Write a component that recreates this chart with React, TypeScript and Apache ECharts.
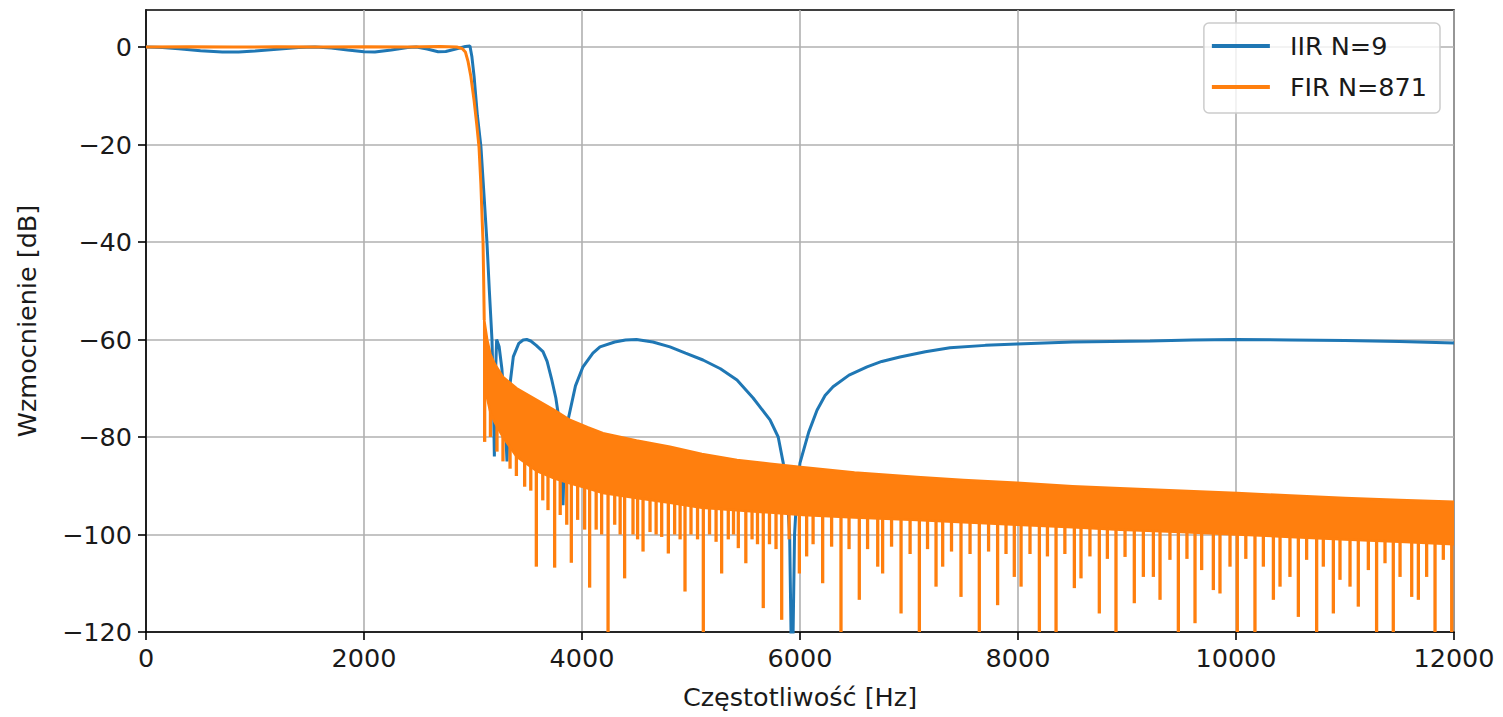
import React, { useEffect, useRef } from 'react';
import * as echarts from 'echarts';

// ---------- data ----------
const X_TICKS = [0, 2000, 4000, 6000, 8000, 10000, 12000];
const Y_TICKS = [-120, -100, -80, -60, -40, -20, 0];

const IIR_F = [
  0, 150, 300, 500, 700, 850, 1000, 1200, 1400, 1550, 1700, 1850, 2000, 2100, 2250, 2400, 2480, 2580, 2680, 2750,
  2850, 2930, 2972, 2990, 3010, 3040, 3073, 3100, 3128, 3150, 3174, 3186, 3196, 3205, 3217, 3240, 3265, 3290, 3312,
  3335, 3370, 3420, 3460, 3493, 3530, 3580, 3642, 3680, 3720, 3760, 3790, 3810, 3826, 3840, 3872, 3940, 4009, 4100, 4165, 4300, 4400, 4500,
  4650, 4807, 4950, 5110, 5270, 5422, 5570, 5725, 5800, 5847, 5880, 5905, 5927, 5950, 5975, 6000, 6080, 6156, 6230,
  6303, 6450, 6615, 6750, 6917, 7150, 7376, 7700, 7991, 8500, 9211, 9600, 10000, 10500, 11000, 11500, 12000,
];
const IIR_DB = [
  0, -0.1, -0.35, -0.75, -1.0, -1.0, -0.8, -0.45, -0.1, 0, -0.2, -0.6, -0.95, -1.0, -0.6, -0.1, 0, -0.4, -0.95, -0.9,
  -0.35, 0.1, 0.2, -2, -6, -14, -20.5, -30, -40, -50, -60, -70, -84, -68, -60, -61.5, -66, -74, -85,
  -70, -63.5, -60.8, -60.1, -60, -60.3, -61.2, -62.5, -64.5, -68, -72, -76.5, -82, -94, -82, -76.5, -69.5, -65.6, -62.8, -61.5, -60.5, -60.1, -60,
  -60.5, -61.5, -62.8, -64.2, -66, -68.3, -72, -76.5, -80, -85.4, -91, -100, -135, -100, -90, -85.3, -79, -74.5, -71.5,
  -69.7, -67.3, -65.6, -64.5, -63.6, -62.5, -61.7, -61.2, -60.9, -60.5, -60.3, -60.1, -60, -60.1, -60.2, -60.4, -60.7,
];

// FIR: pass band and main transition
const FIR_F = [0, 400, 800, 1200, 1600, 2000, 2400, 2700, 2850, 2900, 2930, 2955, 2980, 3010, 3035, 3055, 3072, 3085, 3092, 3098, 3103];
const FIR_DB = [0, 0.05, 0, 0.05, 0, 0.05, 0, 0.1, 0, -0.3, -1, -3, -6, -11, -16, -20.5, -28, -36, -40, -48, -56];

// FIR stop band: dense ripple drawn as a band between its upper and lower edges
const FIR_BAND_F = [3103, 3130, 3160, 3200, 3275, 3400, 3587, 3750, 3890, 4050, 4193, 4500, 4807, 5100, 5422, 5725, 6028, 6500, 7073, 7500, 7991, 8500, 8936, 9500, 10009, 10500, 11000, 11500, 12000];
const FIR_BAND_TOP = [-56, -60, -63, -65, -67.7, -70, -72.4, -74.5, -76.5, -78, -79.2, -80.7, -82, -83.5, -84.7, -85.5, -86.2, -87.3, -88.2, -88.8, -89.4, -90.1, -90.5, -91.0, -91.5, -92.0, -92.5, -92.9, -93.3];
const FIR_BAND_BOTTOM = [-60, -72, -75, -77, -80, -84, -87, -88.5, -89.5, -90.5, -91.5, -92.5, -93.5, -94.5, -95, -95.5, -96, -96.5, -97, -97.5, -98, -98.5, -99, -99.5, -100, -100.5, -101, -101.5, -102];

// FIR stop band: individual deep notches below the band
const FIR_SPIKE_F = [
  3107, 3160, 3220, 3275, 3340, 3398, 3474, 3530, 3581, 3640, 3688, 3749, 3800, 3860, 3902, 3960, 4024, 4070, 4130, 4180,
  4239, 4300, 4350, 4391, 4468, 4510, 4560, 4624, 4680, 4731, 4792, 4850, 4900, 4945, 5000, 5060, 5113, 5170, 5230, 5281,
  5342, 5390, 5434, 5503, 5560, 5610, 5663, 5720, 5780, 5832, 5900, 5994, 6061, 6120, 6208, 6290, 6376, 6450, 6544, 6620,
  6713, 6758, 6840, 6927, 7010, 7095, 7170, 7248, 7309, 7390, 7477, 7560, 7645, 7730, 7813, 7890, 7966, 8028, 8110, 8196,
  8270, 8349, 8430, 8517, 8578, 8660, 8746, 8820, 8899, 8982, 9067, 9150, 9242, 9303, 9394, 9471, 9550, 9624, 9685, 9792,
  9853, 9945, 10012, 10090, 10174, 10251, 10343, 10404, 10495, 10572, 10648, 10740, 10801, 10893, 10954, 11046, 11122, 11214, 11290, 11367,
  11443, 11505, 11612, 11673, 11749, 11826, 11902, 11979,
];
const FIR_SPIKE_DB = [
  -81, -80, -83, -85, -86.5, -88, -90.2, -91, -106.6, -93, -95, -106.8, -96, -98, -105.8, -97, -99, -110.9, -99, -100,
  -125, -98, -100, -109, -100, -101, -103.5, -99.5, -100, -100.5, -103.9, -100, -101, -111.7, -100, -101, -125, -100, -101.5, -108,
  -101, -100, -102.8, -105.9, -101, -102, -115.1, -102, -103, -117.5, -101, -108, -104.5, -102, -110, -102.5, -125, -103, -113.4, -103,
  -106.6, -108, -102.5, -116.2, -104, -125, -103, -110.7, -106.6, -103.5, -112.8, -104, -125, -103.5, -114.5, -104, -108.7, -110.7, -104, -125,
  -104.5, -125, -104, -111, -109, -104.5, -116.2, -105, -125, -104.6, -114.1, -108.7, -108.7, -113.4, -105.2, -125, -105, -118.2, -107.3, -111.4,
  -112.1, -106.6, -125, -105, -125, -106.6, -113.4, -110.7, -108.7, -116.9, -105.2, -125, -106.6, -116.2, -109.3, -110.7, -114.8, -107.3, -125, -105.9,
  -125, -108.7, -112.8, -113.4, -108.7, -125, -105.2, -125,
];

// ---------- styling ----------
const BLUE = '#1f77b4';
const ORANGE = '#ff7f0e';
const FONT = 'DejaVu Sans';
const TEXT = '#1a1a1a';
const FS = 25.5;

const fmtNum = (v: number) => (v < 0 ? '\u2212' + String(Math.abs(v)) : String(v));

function bandBottomAt(f: number): number {
  const n = FIR_BAND_F.length;
  if (f <= FIR_BAND_F[0]) return FIR_BAND_BOTTOM[0];
  if (f >= FIR_BAND_F[n - 1]) return FIR_BAND_BOTTOM[n - 1];
  for (let i = 0; i < n - 1; i++) {
    if (f >= FIR_BAND_F[i] && f <= FIR_BAND_F[i + 1]) {
      const t = (f - FIR_BAND_F[i]) / (FIR_BAND_F[i + 1] - FIR_BAND_F[i]);
      return FIR_BAND_BOTTOM[i] + t * (FIR_BAND_BOTTOM[i + 1] - FIR_BAND_BOTTOM[i]);
    }
  }
  return FIR_BAND_BOTTOM[n - 1];
}

export default function App() {
  const ref = useRef<HTMLDivElement>(null);

  useEffect(() => {
    if (!ref.current) return;
    const chart = echarts.init(ref.current, null, { renderer: 'svg' });

    const option: any = {
      animation: false,
      backgroundColor: '#ffffff',
      grid: {
        left: 146,
        top: 10,
        right: 49,
        bottom: 85,
        show: true,
        borderColor: '#000',
        borderWidth: 1.6,
        backgroundColor: 'transparent',
      },
      xAxis: {
        type: 'value',
        min: 0,
        max: 12000,
        interval: 2000,
        name: 'Częstotliwość [Hz]',
        nameLocation: 'middle',
        nameGap: 52,
        nameTextStyle: { fontFamily: FONT, fontSize: FS, color: TEXT },
        axisLine: { show: true, onZero: false, lineStyle: { color: '#000', width: 1.6 } },
        axisTick: { show: true, length: 8, lineStyle: { color: '#000', width: 1.6 } },
        axisLabel: {
          fontFamily: FONT,
          fontSize: FS,
          color: TEXT,
          margin: 13,
          customValues: X_TICKS,
          formatter: (v: number) => fmtNum(v),
        },
        splitLine: { show: true, lineStyle: { color: '#b0b0b0', width: 1.6 } },
      },
      yAxis: {
        type: 'value',
        min: -120,
        max: 7.6,
        interval: 20,
        name: 'Wzmocnienie [dB]',
        nameLocation: 'middle',
        nameGap: 106,
        nameRotate: 90,
        nameTextStyle: { fontFamily: FONT, fontSize: FS, color: TEXT },
        axisLine: { show: true, onZero: false, lineStyle: { color: '#000', width: 1.6 } },
        axisTick: { show: true, length: 8, customValues: Y_TICKS, lineStyle: { color: '#000', width: 1.6 } },
        axisLabel: {
          fontFamily: FONT,
          fontSize: FS,
          color: TEXT,
          margin: 14,
          customValues: Y_TICKS,
          formatter: (v: number) => (Math.abs(v % 20) < 1e-6 ? fmtNum(v) : ''),
        },
        splitLine: { show: true, lineStyle: { color: '#b0b0b0', width: 1.6 } },
      },
      legend: {
        orient: 'vertical',
        right: 63,
        top: 23,
        padding: [10, 13, 13, 8],
        itemWidth: 58,
        itemHeight: 4,
        itemGap: 15,
        icon: 'rect',
        borderColor: '#cccccc',
        borderWidth: 1.5,
        borderRadius: 5,
        backgroundColor: 'rgba(255,255,255,0.8)',
        textStyle: { fontFamily: FONT, fontSize: FS, color: TEXT, padding: [0, 0, 0, 15] },
        data: [{ name: 'IIR N=9' }, { name: 'FIR N=871' }],
      },
      series: [
        {
          name: 'IIR N=9',
          type: 'line',
          data: IIR_F.map((f, i) => [f, IIR_DB[i]]),
          showSymbol: false,
          symbol: 'none',
          clip: true,
          color: BLUE,
          lineStyle: { color: BLUE, width: 3 },
          z: 2,
        },
        {
          name: 'FIR spikes',
          type: 'custom',
          silent: true,
          clip: true,
          z: 3,
          data: FIR_SPIKE_F.map((f, i) => [f, FIR_SPIKE_DB[i]]),
          encode: { x: 0, y: 1 },
          renderItem: (_params: any, api: any) => {
            const f = api.value(0);
            const d = api.value(1);
            const p1 = api.coord([f, bandBottomAt(f) + 3]);
            const p2 = api.coord([f, d]);
            return {
              type: 'line',
              shape: { x1: p1[0], y1: p1[1], x2: p2[0], y2: p2[1] },
              style: { stroke: ORANGE, lineWidth: 3.3 },
            };
          },
        },
        {
          name: 'FIR band',
          type: 'custom',
          silent: true,
          clip: true,
          z: 3,
          data: [[FIR_BAND_F[0], FIR_BAND_TOP[0]]],
          encode: { x: 0, y: 1 },
          renderItem: (_params: any, api: any) => {
            const pts: number[][] = [];
            for (let i = 0; i < FIR_BAND_F.length; i++) pts.push(api.coord([FIR_BAND_F[i], FIR_BAND_TOP[i]]));
            for (let i = FIR_BAND_F.length - 1; i >= 0; i--) pts.push(api.coord([FIR_BAND_F[i], FIR_BAND_BOTTOM[i]]));
            return {
              type: 'polygon',
              shape: { points: pts },
              style: { fill: ORANGE, stroke: ORANGE, lineWidth: 2.5 },
            };
          },
        },
        {
          name: 'FIR N=871',
          type: 'line',
          data: FIR_F.map((f, i) => [f, FIR_DB[i]]),
          showSymbol: false,
          symbol: 'none',
          clip: true,
          color: ORANGE,
          lineStyle: { color: ORANGE, width: 3 },
          z: 3,
        },
      ],
    };

    chart.setOption(option);
    return () => chart.dispose();
  }, []);

  return (
    <div
      ref={ref}
      style={{ position: 'absolute', left: 0, top: 0, width: 1503, height: 717, background: '#fff' }}
    />
  );
}
